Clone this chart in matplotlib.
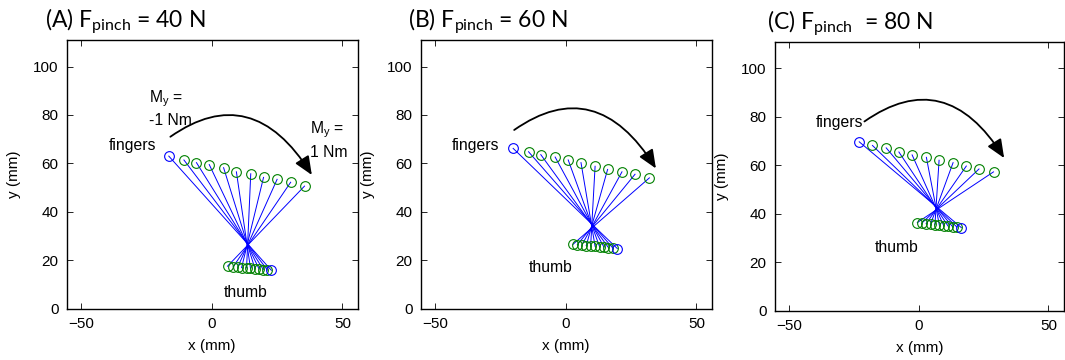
import matplotlib
matplotlib.use("Agg")
import matplotlib.pyplot as plt

plt.rcParams['font.family'] = ['Liberation Sans', 'DejaVu Sans']
plt.rcParams['mathtext.fontset'] = 'custom'
plt.rcParams['mathtext.rm'] = 'Liberation Sans'

# pinch force per panel
titles = [r"(A) F$_\mathregular{pinch}$ = 40 N",
          r"(B) F$_\mathregular{pinch}$ = 60 N",
          r"(C) F$_\mathregular{pinch}$  = 80 N"]

# fingertip / thumb positions in mm, index 0 = My = -1 Nm (blue)
finger_x_40 = [-16.5, -10.7, -5.9, -1.0, 4.5, 9.4, 14.9, 19.8, 25.0, 30.2, 35.5]
finger_y_40 = [63.0, 61.4, 60.3, 59.5, 58.2, 56.5, 55.7, 54.2, 53.4, 52.2, 50.6]
thumb_x_40 = [22.8, 21.3, 19.7, 18.1, 16.5, 14.8, 13.3, 11.4, 9.9, 8.2, 6.0]
thumb_y_40 = [15.8, 15.9, 16.1, 16.3, 16.5, 16.6, 16.8, 16.9, 17.1, 17.3, 17.5]

finger_x_60 = [-20.2, -14.3, -9.6, -4.1, 0.9, 5.8, 11.2, 16.0, 21.5, 26.5, 32.0]
finger_y_60 = [66.2, 64.8, 63.6, 62.6, 61.4, 60.3, 58.8, 57.5, 56.5, 55.5, 54.0]
thumb_x_60 = [19.7, 18.0, 16.3, 14.6, 12.9, 11.2, 9.5, 7.8, 6.1, 4.4, 2.7]
thumb_y_60 = [24.8, 25.0, 25.2, 25.4, 25.6, 25.7, 25.9, 26.0, 26.2, 26.4, 26.5]

finger_x_80 = [-23.0, -17.9, -12.6, -7.7, -2.6, 2.9, 7.8, 13.2, 18.3, 23.2, 28.8]
finger_y_80 = [69.6, 68.1, 67.1, 65.4, 64.2, 63.2, 62.0, 61.0, 59.6, 58.4, 57.2]
thumb_x_80 = [16.4, 14.7, 13.0, 11.3, 9.6, 7.9, 6.2, 4.5, 2.8, 1.1, -0.6]
thumb_y_80 = [34.2, 34.4, 34.6, 34.8, 35.0, 35.2, 35.4, 35.6, 35.8, 36.0, 36.3]

fingers_x = [finger_x_40, finger_x_60, finger_x_80]
fingers_y = [finger_y_40, finger_y_60, finger_y_80]
thumbs_x = [thumb_x_40, thumb_x_60, thumb_x_80]
thumbs_y = [thumb_y_40, thumb_y_60, thumb_y_80]

# annotation anchors (mm)
arrow_start = [(-15.9, 71.0), (-19.8, 73.8), (-21.0, 78.0)]
arrow_end = [(38.3, 55.2), (34.5, 57.9), (32.9, 62.9)]
fingers_label = [(-39.5, 65.5), (-43.9, 65.5), (-39.7, 75.7)]
thumb_label = [(4.7, 4.8), (-14.1, 15.2), (-17.2, 24.1)]

# layout in pixels (left, top, right, bottom) of a 1065x360 figure
W, H = 1065, 360
boxes = [(67, 40, 357.5, 308.5), (421, 40, 711.5, 308.5), (775, 41.5, 1063.5, 310.5)]
title_pos = [(45, 28), (408, 28), (767, 30.5)]

blue = '#0000ff'
green = '#008000'

fig = plt.figure(figsize=(W / 100, H / 100), dpi=100)

for i in range(3):
    l, t, r, b = boxes[i]
    ax = fig.add_axes([l / W, 1 - b / H, (r - l) / W, (b - t) / H])
    fx, fy = fingers_x[i], fingers_y[i]
    tx, ty = thumbs_x[i], thumbs_y[i]

    for k in range(len(fx)):
        ax.plot([fx[k], tx[k]], [fy[k], ty[k]], color=blue, lw=0.7, zorder=2)
    ax.plot(fx[1:], fy[1:], 'o', mfc='none', mec=green, ms=7, mew=0.8, zorder=3)
    ax.plot(tx[1:], ty[1:], 'o', mfc='none', mec=green, ms=7, mew=0.8, zorder=3)
    ax.plot(fx[0], fy[0], 'o', mfc='none', mec=blue, ms=7, mew=0.8, zorder=4)
    ax.plot(tx[0], ty[0], 'o', mfc='none', mec=blue, ms=7, mew=0.8, zorder=4)

    ax.annotate("", xy=arrow_end[i], xytext=arrow_start[i],
                arrowprops=dict(arrowstyle='-|>,head_length=0.75,head_width=0.32',
                                connectionstyle='angle3,angleA=35,angleB=-58',
                                color='k', lw=1.3, mutation_scale=15,
                                shrinkA=0, shrinkB=0))

    ax.text(*fingers_label[i], "fingers", fontsize=11.3, va='baseline', ha='left')
    ax.text(*thumb_label[i], "thumb", fontsize=11.3, va='baseline', ha='left')
    if i == 0:
        ax.text(-24.2, 91.0, "M$_\\mathregular{y}$ =\n-1 Nm", fontsize=11.3,
                va='top', ha='left', linespacing=1.35)
        ax.text(37.6, 78.0, "M$_\\mathregular{y}$ =\n1 Nm", fontsize=11.3,
                va='top', ha='left', linespacing=1.35)

    ax.set_xlim(-55.5, 55.8)
    ax.set_ylim(0, 111)
    ax.set_xticks([-50, 0, 50])
    ax.set_yticks([0, 20, 40, 60, 80, 100])
    ax.tick_params(direction='in', top=True, right=True, length=4, width=0.6,
                   labelsize=11, pad=6)
    for s in ax.spines.values():
        s.set_linewidth(1.0)
    ax.set_xlabel("x (mm)", fontsize=11, labelpad=6)
    ax.set_ylabel("y (mm)", fontsize=11, labelpad=9)

    fig.text(title_pos[i][0] / W, 1 - title_pos[i][1] / H, titles[i],
             family=['Lato', 'DejaVu Sans'], fontsize=16.5, ha='left', va='baseline')

fig.savefig("out.png", dpi=100)
